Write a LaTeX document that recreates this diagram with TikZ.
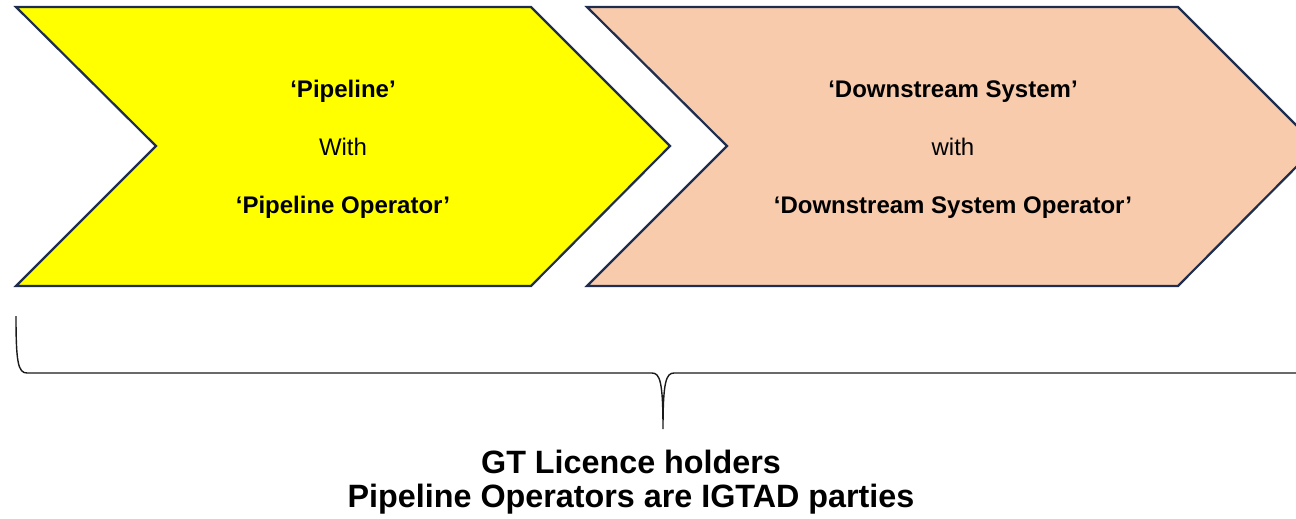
\documentclass[tikz,border=0pt]{standalone}
\usepackage{fontspec}
\setmainfont{Liberation Sans}
\definecolor{chevyellow}{HTML}{FFFF00}
\definecolor{chevpeach}{HTML}{F8CBAD}
\definecolor{chevline}{HTML}{1F2D4E}
\definecolor{bracecol}{HTML}{1A1A1A}
\begin{document}
\begin{tikzpicture}[x=1pt,y=-1pt,
  chev/.style={draw=chevline,line width=2.2pt,line join=miter},
  boxtext/.style={anchor=base,inner sep=0pt,font=\fontsize{24}{28}\selectfont},
  bottomtext/.style={anchor=base,inner sep=0pt,font=\fontsize{32.3}{40}\selectfont\bfseries},
  bracestyle/.style={draw=bracecol,line width=1.4pt}]
\useasboundingbox (0,0) rectangle (1296,519);
\begin{scope}
\clip (0,0) rectangle (1296,519);
% yellow chevron
\path[chev,fill=chevyellow] (16,7) -- (531,7) -- (670,146) -- (531,286) -- (16,286) -- (156,146) -- cycle;
% peach chevron
\path[chev,fill=chevpeach] (587,7) -- (1178,7) -- (1317,146) -- (1178,286) -- (587,286) -- (727,146) -- cycle;
% brace
\draw[bracestyle] (16,316) .. controls (16,362) and (18,373) .. (27,373) -- (652,373)
  .. controls (660,373) and (663,382) .. (663,429)
  .. controls (663,382) and (666,373) .. (674,373) -- (1299,373)
  .. controls (1308,373) and (1310,362) .. (1310,316);
\end{scope}
% texts
\node[boxtext] (p1) at (343,98) {\bfseries ‘Pipeline’};
\node[boxtext] (p2) at (343,155) {With};
\node[boxtext] (p3) at (343,213) {\bfseries ‘Pipeline Operator’};
\node[boxtext] (d1) at (953,98) {\bfseries ‘Downstream System’};
\node[boxtext] (d2) at (953,155) {with};
\node[boxtext] (d3) at (953,213) {\bfseries ‘Downstream System Operator’};
\node[bottomtext] (b1) at (631,473) {GT Licence holders};
\node[bottomtext] (b2) at (631,507) {Pipeline Operators are IGTAD parties};
\end{tikzpicture}
\end{document}
